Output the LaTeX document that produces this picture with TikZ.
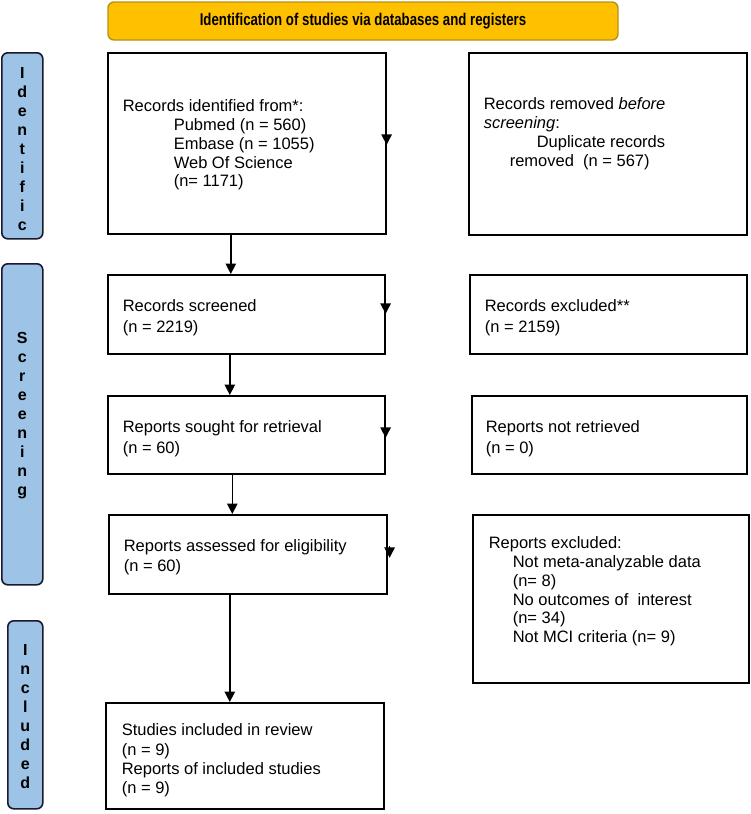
\documentclass[tikz,border=0pt]{standalone}
\usepackage{fontspec}
\setmainfont{Liberation Sans}
\newfontfamily\bannerfont[FakeStretch=0.78]{Liberation Sans}
\usetikzlibrary{arrows.meta}
\definecolor{banfill}{HTML}{FFC000}
\definecolor{banline}{HTML}{B8901A}
\definecolor{barfill}{HTML}{9DC3E6}
\definecolor{barline}{HTML}{1A1A2E}
% width, height, top gap, left gap, baselineskip, text
\newcommand\bxtext[6]{\parbox[c][#2][t]{#1}{\fontsize{16.5}{#5}\selectfont\raggedright\leftskip=#4\relax\vspace*{#3}#6}}
% width, height, top gap, letters
\newcommand\bartext[4]{\parbox[c][#2][t]{#1}{\fontsize{16}{19}\selectfont\bfseries\centering\vspace*{#3}#4}}
\tikzset{
  box/.style={draw, line width=1.6pt, inner sep=0pt, anchor=north west},
  bar/.style={draw=barline, fill=barfill, line width=1.6pt, rounded corners=6pt, inner sep=0pt, anchor=north west},
  banner/.style={draw=banline, fill=banfill, line width=1.4pt, rounded corners=6pt, inner sep=0pt,
    minimum width=510pt, minimum height=38pt, font=\bannerfont\bfseries\fontsize{17}{20}\selectfont},
  arr/.style={-{Triangle[width=10.5pt,length=10.5pt]}, line width=1.4pt}
}
\begin{document}
\begin{tikzpicture}[x=1pt,y=-1pt]
\useasboundingbox (0,0) rectangle (750,814);
\node[banner] (ban) at (363,21) {Identification of studies via databases and registers};

\node[bar] (b1) at (1,52) {\bartext{41pt}{186pt}{14.3pt}{I\\d\\e\\n\\t\\i\\f\\i\\c}};
\node[bar] (b2) at (1,263) {\bartext{41pt}{321pt}{69pt}{S\\c\\r\\e\\e\\n\\i\\n\\g}};
\node[bar] (b3) at (7,620) {\bartext{35pt}{188pt}{23.3pt}{I\\n\\c\\l\\u\\d\\e\\d}};

\node[box] (A) at (107,52) {\bxtext{278pt}{181pt}{47pt}{15pt}{18.75pt}{Records identified from*:\\
\hspace*{51pt}Pubmed (n = 560)\\
\hspace*{51pt}Embase (n = 1055)\\
\hspace*{51pt}Web Of Science\\
\hspace*{51pt}(n= 1171)}};
\node[box] (B) at (468,52) {\bxtext{278pt}{182pt}{45pt}{15pt}{18.75pt}{Records removed \textit{before}\\
\textit{screening}:\\
\hspace*{53pt}Duplicate records\\
\hspace*{26pt}removed~ (n = 567)}};

\node[box] (C) at (107,274) {\bxtext{277pt}{79pt}{25pt}{15pt}{21pt}{Records screened\\(n = 2219)}};
\node[box] (G) at (469,274) {\bxtext{277pt}{79pt}{25pt}{15pt}{21pt}{Records excluded**\\(n = 2159)}};

\node[box] (D) at (107,395) {\bxtext{277pt}{78pt}{25pt}{15pt}{21pt}{Reports sought for retrieval\\(n = 60)}};
\node[box] (H) at (471,395) {\bxtext{275pt}{78pt}{25pt}{14pt}{21pt}{Reports not retrieved\\(n = 0)}};

\node[box] (E) at (108,514) {\bxtext{278pt}{79pt}{25pt}{15pt}{20pt}{Reports assessed for eligibility\\(n = 60)}};
\node[box] (I) at (472,514) {\bxtext{276pt}{168pt}{22pt}{16pt}{18.8pt}{Reports excluded:\\
\hspace*{24pt}Not meta-analyzable data\\
\hspace*{24pt}(n= 8)\\
\hspace*{24pt}No outcomes of~ interest\\
\hspace*{24pt}(n= 34)\\
\hspace*{24pt}Not MCI criteria (n= 9)}};

\node[box] (F) at (105,702) {\bxtext{278pt}{106pt}{21pt}{16pt}{19.3pt}{Studies included in review\\(n = 9)\\Reports of included studies\\(n = 9)}};

% vertical connectors
\draw[arr] ([xshift=-16pt]A.south) -- ([xshift=-16pt]A.south |- C.north);
\draw[arr] ([xshift=-16.5pt]C.south) -- ([xshift=-16.5pt]C.south |- D.north);
\draw[arr] ([xshift=-14pt]D.south) -- ([xshift=-14pt]D.south |- E.north);
\draw[arr] ([xshift=-18pt]E.south) -- ([xshift=-18pt]E.south |- F.north);

% arrowheads on right edges
\draw[arr] ([yshift=10pt]A.east) -- ([yshift=-1.5pt]A.east);
\draw[arr] ([yshift=12pt]C.east) -- ([yshift=0.5pt]C.east);
\draw[arr] ([yshift=9pt]D.east) -- ([yshift=-3pt]D.east);
\draw[arr] ([xshift=2pt,yshift=8pt]E.east) -- ([xshift=2pt,yshift=-3.5pt]E.east);
\end{tikzpicture}
\end{document}
